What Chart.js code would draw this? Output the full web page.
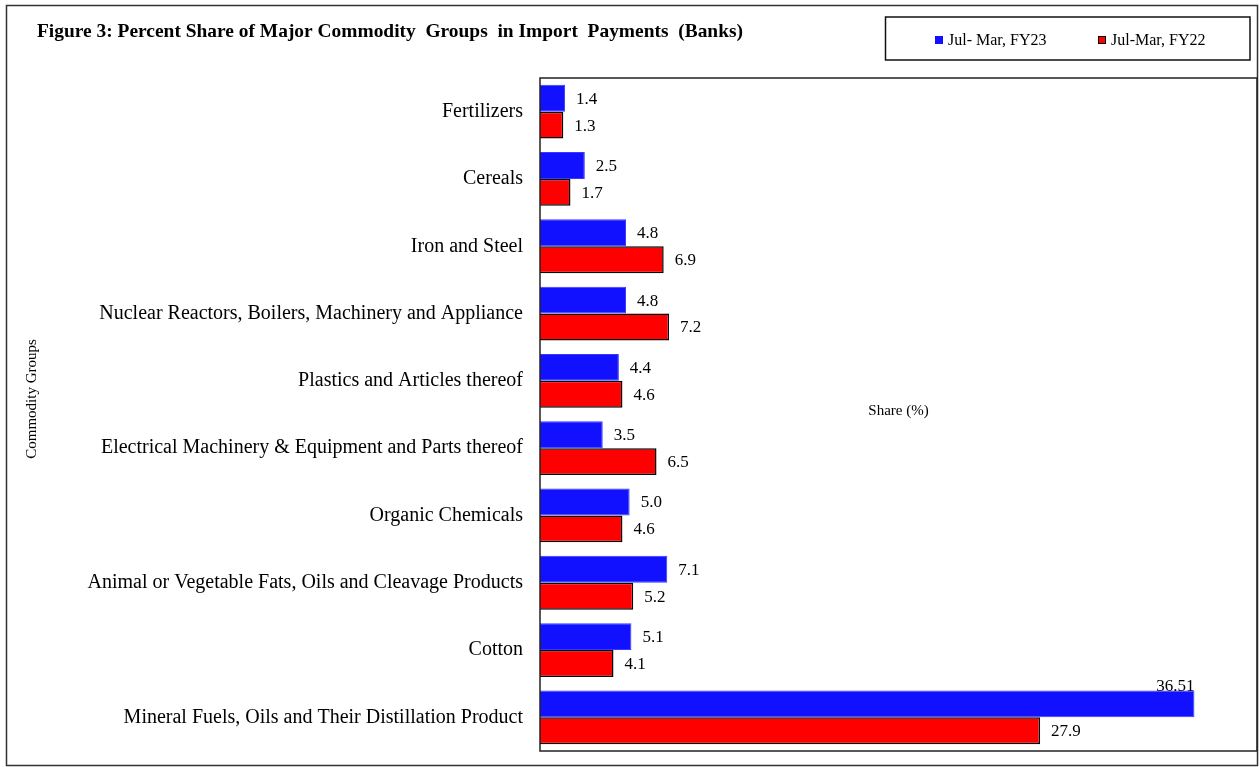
<!DOCTYPE html>
<html>
<head>
<meta charset="utf-8">
<script src="https://cdn.jsdelivr.net/npm/chart.js@4.4.1/dist/chart.umd.min.js"></script>
<style>
  html, body { margin: 0; padding: 0; background: #fff; }
  #wrap { width: 1260px; height: 767px; position: relative; }
</style>
</head>
<body>
<div id="wrap"><canvas id="importChart" width="1260" height="767"></canvas></div>
<script>
// Commodity groups, top to bottom
const categories = [
  'Fertilizers',
  'Cereals',
  'Iron and Steel',
  'Nuclear Reactors, Boilers, Machinery and Appliance',
  'Plastics and Articles thereof',
  'Electrical Machinery & Equipment and Parts thereof',
  'Organic Chemicals',
  'Animal or Vegetable Fats, Oils and Cleavage Products',
  'Cotton',
  'Mineral Fuels, Oils and Their Distillation Product'
];
const fy23 = [1.4, 2.5, 4.8, 4.8, 4.4, 3.5, 5.0, 7.1, 5.1, 36.51];
const fy22 = [1.3, 1.7, 6.9, 7.2, 4.6, 6.5, 4.6, 5.2, 4.1, 27.9];
const seriesNames = ['Jul- Mar, FY23', 'Jul-Mar, FY22'];
const titleText = 'Figure 3: Percent Share of Major Commodity  Groups  in Import  Payments  (Banks)';
const SERIF = "'Liberation Serif', 'Times New Roman', serif";

const fmt = v => (Math.round(v * 10) === v * 10) ? v.toFixed(1) : String(v);

// frame, title, legend, axis titles, plot border, value labels
const decor = {
  id: 'decor',
  afterDatasetsDraw(chart) {
    const ctx = chart.ctx, a = chart.chartArea;
    ctx.save();
    // outer frame
    ctx.strokeStyle = '#333'; ctx.lineWidth = 1.5;
    ctx.strokeRect(6.5, 5.5, 1251, 760);
    // title, squeezed to the original width
    ctx.fillStyle = '#000';
    ctx.font = 'bold 19px ' + SERIF;
    ctx.textBaseline = 'middle'; ctx.textAlign = 'left';
    const tw = ctx.measureText(titleText).width;
    ctx.save(); ctx.translate(37, 32); ctx.scale(706 / tw, 1);
    ctx.fillText(titleText, 0, 0); ctx.restore();
    // legend box
    ctx.strokeStyle = '#111'; ctx.lineWidth = 1.5;
    ctx.strokeRect(885.5, 17, 364.5, 43);
    ctx.font = '16px ' + SERIF;
    const lx = [935, 1098];
    chart.data.datasets.forEach((ds, i) => {
      ctx.fillStyle = ds.backgroundColor;
      ctx.fillRect(lx[i], 36, 8, 8);
      if (i === 1) { ctx.strokeStyle = '#000'; ctx.lineWidth = 1; ctx.strokeRect(lx[i] + 0.5, 36.5, 7, 7); }
      ctx.fillStyle = '#000';
      ctx.fillText(ds.label, lx[i] + 13, 41);
    });
    // plot area border
    ctx.strokeStyle = '#222'; ctx.lineWidth = 1.5;
    ctx.strokeRect(a.left, a.top, a.right - a.left, a.bottom - a.top);
    // axis titles
    ctx.font = '15px ' + SERIF; ctx.textAlign = 'center';
    ctx.fillText('Share (%)', (a.left + a.right) / 2, 411);
    ctx.save(); ctx.translate(32, 399); ctx.rotate(-Math.PI / 2);
    ctx.font = '15px ' + SERIF; ctx.fillText('Commodity Groups', 0, 0); ctx.restore();
    // value labels
    ctx.font = '17px ' + SERIF;
    chart.data.datasets.forEach((ds, i) => {
      chart.getDatasetMeta(i).data.forEach((bar, j) => {
        const txt = fmt(ds.data[j]);
        const w = ctx.measureText(txt).width;
        if (bar.x + 11 + w > a.right - 20) {
          ctx.textAlign = 'right';
          ctx.fillText(txt, bar.x, bar.y - bar.height / 2 - 4);
        } else {
          ctx.textAlign = 'left';
          ctx.fillText(txt, bar.x + 11, bar.y + 1);
        }
      });
    });
    ctx.restore();
  }
};

new Chart(document.getElementById('importChart'), {
  type: 'bar',
  data: {
    labels: categories,
    datasets: [
      { label: seriesNames[0], data: fy23, backgroundColor: '#1111ff', borderColor: '#3838ff', borderWidth: 1 },
      { label: seriesNames[1], data: fy22, backgroundColor: '#ff0000', borderColor: '#000', borderWidth: 1.5 }
    ]
  },
  options: {
    indexAxis: 'y',
    responsive: false,
    animation: false,
    layout: { padding: { top: 78, right: 3, bottom: 16, left: 0 } },
    datasets: { bar: { categoryPercentage: 0.8, barPercentage: 1.0 } },
    plugins: { legend: { display: false }, tooltip: { enabled: false } },
    scales: {
      x: { display: false, min: 0, max: 40 },
      y: {
        grid: { display: false, drawTicks: false },
        border: { display: false },
        ticks: { padding: 17, color: '#000', font: { family: SERIF, size: 20 } },
        afterFit: s => { s.width = 540; s.paddingTop = 0; s.paddingBottom = 0; }
      }
    }
  },
  plugins: [decor]
});
</script>
</body>
</html>
